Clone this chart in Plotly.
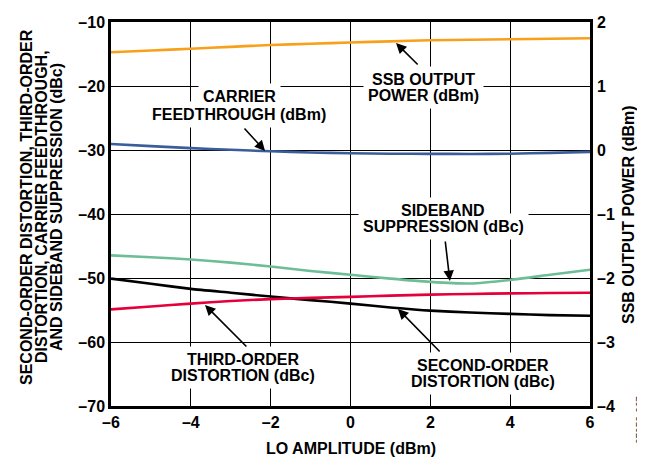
import plotly.graph_objects as go

lo_amplitude = [-6, -5, -4, -3, -2, -1, 0, 1, 2, 3, 4, 5, 6]
ssb_output_power = [1.527, 1.555, 1.583, 1.612, 1.64, 1.66, 1.68, 1.698, 1.714, 1.722, 1.73, 1.738, 1.745]
carrier_feedthrough = [-29.06, -29.4, -29.7, -29.97, -30.2, -30.38, -30.5, -30.58, -30.6, -30.62, -30.58, -30.45, -30.3]
sideband_suppression = [-46.46, -46.75, -47.1, -47.6, -48.2, -48.9, -49.5, -50.1, -50.6, -50.85, -50.3, -49.5, -48.7]
second_order = [-50.1, -50.9, -51.7, -52.3, -52.9, -53.45, -54.0, -54.6, -55.1, -55.4, -55.6, -55.8, -55.9]
third_order = [-54.9, -54.45, -54.0, -53.6, -53.3, -53.1, -52.95, -52.75, -52.6, -52.5, -52.4, -52.35, -52.3]

x_ticks = [-6, -4, -2, 0, 2, 4, 6]
x_ticktext = ["–6", "–4", "–2", "0", "2", "4", "6"]
left_ticks = [-70, -60, -50, -40, -30, -20, -10]
left_ticktext = ["–70", "–60", "–50", "–40", "–30", "–20", "–10"]
right_ticks = [-4, -3, -2, -1, 0, 1, 2]
right_ticktext = ["–4", "–3", "–2", "–1", "0", "1", "2"]

FONT = "Arial, Liberation Sans, sans-serif"
fs = 16
W = 2.6

fig = go.Figure()
fig.add_trace(go.Scatter(x=lo_amplitude, y=carrier_feedthrough, mode="lines",
                         line=dict(color="#3B5E9B", width=W, shape="spline", smoothing=0.6), yaxis="y"))
fig.add_trace(go.Scatter(x=lo_amplitude, y=sideband_suppression, mode="lines",
                         line=dict(color="#6DBE97", width=W, shape="spline", smoothing=0.6), yaxis="y"))
fig.add_trace(go.Scatter(x=lo_amplitude, y=second_order, mode="lines",
                         line=dict(color="#000000", width=W, shape="spline", smoothing=0.6), yaxis="y"))
fig.add_trace(go.Scatter(x=lo_amplitude, y=third_order, mode="lines",
                         line=dict(color="#E4003A", width=W, shape="spline", smoothing=0.6), yaxis="y"))
fig.add_trace(go.Scatter(x=lo_amplitude, y=ssb_output_power, mode="lines",
                         line=dict(color="#F9A01B", width=W, shape="spline", smoothing=0.6), yaxis="y2"))

tickfont = dict(family=FONT, size=fs, color="black", weight="bold")

fig.update_layout(
    template="none",
    width=645, height=457,
    margin=dict(l=103, r=63, t=14, b=59, pad=0),
    paper_bgcolor="white", plot_bgcolor="white",
    showlegend=False,
    xaxis=dict(range=[-6, 6], tickvals=x_ticks, ticktext=x_ticktext, tickfont=tickfont,
               showgrid=True, gridcolor="black", gridwidth=1, zeroline=False, automargin=False,
               showline=True, linecolor="black", linewidth=2.5, mirror=True, ticks=""),
    yaxis=dict(range=[-70, -10], tickvals=left_ticks, ticktext=left_ticktext, tickfont=tickfont,
               showgrid=True, gridcolor="black", gridwidth=1, zeroline=False, automargin=False,
               showline=True, linecolor="black", linewidth=2.5, mirror=True, ticks=""),
    yaxis2=dict(range=[-4, 2], tickvals=right_ticks, ticktext=right_ticktext, tickfont=tickfont,
                overlaying="y", side="right", showgrid=False, zeroline=False, automargin=False,
                showline=False, ticks="", ticklabelstandoff=6),
)

labels = [
    ("CARRIER", -2.79, -21.7, "y"),
    ("FEEDTHROUGH (dBm)", -2.79, -24.5, "y"),
    ("SSB OUTPUT", 1.84, -19.06, "y"),
    ("POWER (dBm)", 1.84, -21.56, "y"),
    ("SIDEBAND", 2.32, -39.4, "y"),
    ("SUPPRESSION (dBc)", 2.32, -41.9, "y"),
    ("THIRD-ORDER", -2.69, -62.8, "y"),
    ("DISTORTION (dBc)", -2.69, -65.2, "y"),
    ("SECOND-ORDER", 3.32, -63.6, "y"),
    ("DISTORTION (dBc)", 3.32, -66.1, "y"),
]
# white backing boxes first, then text on top
for txt, x, y, yr in labels:
    fig.add_annotation(x=x, y=y, xref="x", yref=yr, text=txt, showarrow=False,
                       font=dict(family=FONT, size=fs, color="white", weight="bold"),
                       bgcolor="white", borderpad=4, xanchor="center", yanchor="middle")
for txt, x, y, yr in labels:
    fig.add_annotation(x=x, y=y, xref="x", yref=yr, text=txt, showarrow=False,
                       font=dict(family=FONT, size=fs, color="black", weight="bold"),
                       xanchor="center", yanchor="middle")

def arrow(x, y, ax, ay, yref="y"):
    fig.add_annotation(x=x, y=y, ax=ax, ay=ay, xref="x", yref=yref, axref="x", ayref=yref,
                       text="", showarrow=True, arrowhead=2, arrowsize=1.3, arrowwidth=1.6,
                       arrowcolor="black")

arrow(-2.14, -30.16, -2.69, -26.4)
arrow(1.14, 1.672, 1.72, 1.3125, yref="y2")
arrow(2.49, -50.47, 2.37, -44.06)
arrow(-3.645, -54.22, -2.57, -60.94)
arrow(1.19, -54.84, 2.27, -61.72)

def px_x(px):
    return (px - 103) / 479.0

def px_y(py):
    return (398 - py) / 384.0

title_font = dict(family=FONT, size=fs, color="black", weight="bold")
for txt, xp in [("SECOND-ORDER DISTORTION, THIRD-ORDER", 18),
                ("DISTORTION, CARRIER FEEDTHROUGH,", 33),
                ("AND SIDEBAND SUPPRESSION (dBc)", 48)]:
    fig.add_annotation(xref="paper", yref="paper", x=px_x(xp), y=px_y(199), text=txt,
                       textangle=-90, showarrow=False, font=title_font,
                       xanchor="center", yanchor="middle")

fig.add_annotation(xref="paper", yref="paper", x=px_x(620), y=px_y(207), text="SSB OUTPUT POWER (dBm)",
                   textangle=-90, showarrow=False, font=title_font, xanchor="center", yanchor="middle")
fig.add_annotation(xref="paper", yref="paper", x=px_x(343), y=px_y(440), text="LO AMPLITUDE (dBm)",
                   showarrow=False, font=title_font, xanchor="center", yanchor="middle")
fig.add_annotation(xref="paper", yref="paper", x=px_x(632), y=px_y(412), text="07052-067",
                   textangle=-90, showarrow=False,
                   font=dict(family=FONT, size=10, color="#333333"), xanchor="center", yanchor="middle")

fig.write_html("out.html")
